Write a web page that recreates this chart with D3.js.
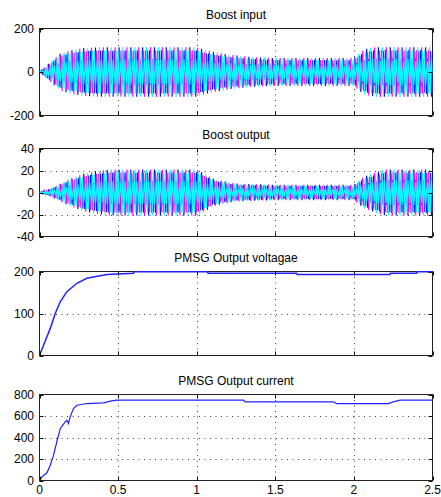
<!DOCTYPE html>
<html>
<head>
<meta charset="utf-8">
<script src="https://cdn.jsdelivr.net/npm/d3@7/dist/d3.min.js"></script>
<style>
  html, body { margin: 0; padding: 0; background: #fff; }
  svg { display: block; }
  text { font-family: "Liberation Sans", Arial, sans-serif; fill: #000; }
</style>
</head>
<body>
<svg id="chart" width="441" height="497"></svg>
<script>
// ---------------- data ----------------
const titles = ["Boost input", "Boost output", "PMSG Output voltagae", "PMSG Output current"];
const timeTicks = [0, 0.5, 1, 1.5, 2, 2.5];
const timeTickLabels = ["0", "0.5", "1", "1.5", "2", "2.5"];

const boostInTicks = [-200, 0, 200];
const boostOutTicks = [-40, -20, 0, 20, 40];
const voltTicks = [0, 100, 200];
const currTicks = [0, 200, 400, 600, 800];

// envelope (peak amplitude) of the boost input waveform
const boostInEnvT = [0, 0.068, 0.132, 0.195, 0.28, 0.386, 1.0, 1.064, 1.149, 1.212, 1.36, 1.51, 2.0, 2.04, 2.08, 2.145, 2.5];
const boostInEnvA = [0, 45, 84, 99, 110, 114, 114, 99, 87, 79, 68, 64, 64, 91, 107, 114, 114];

// envelope of the boost output waveform
const boostOutEnvT = [0, 0.068, 0.174, 0.28, 0.365, 0.45, 1.0, 1.02, 1.106, 1.149, 1.233, 1.276, 1.488, 2.0, 2.06, 2.145, 2.2, 2.5];
const boostOutEnvA = [0, 3.5, 11, 17, 19.5, 21, 21, 19.5, 12.6, 11, 8.5, 8, 7, 7, 14, 18.6, 21, 21];

// PMSG output voltage
const voltT = [0, 0.025, 0.068, 0.1, 0.132, 0.174, 0.238, 0.301, 0.386, 0.428, 0.598, 0.6, 1.07, 1.072, 1.636, 1.638, 2.23, 2.232, 2.4, 2.402, 2.5];
const voltV = [0, 24, 64, 100, 128, 152, 172, 184, 190, 193, 196, 199.5, 199.5, 196, 196, 193, 193, 196, 196, 199.5, 199.5];

// PMSG output current
const currT = [0, 0.025, 0.047, 0.068, 0.089, 0.11, 0.132, 0.163, 0.174, 0.184, 0.195, 0.216, 0.238, 0.301, 0.407, 0.45, 0.49, 1.297, 1.308, 1.869, 1.89, 2.219, 2.25, 2.293, 2.5];
const currV = [0, 47, 72, 140, 233, 358, 482, 545, 560, 530, 592, 670, 700, 716, 722, 738, 748, 748, 732, 732, 716, 716, 732, 748, 748];

// three-phase carrier drawn inside the envelopes
const phaseColors = ["#0000ff", "#ff00ff", "#00ffff"];
const phaseOffsets = [0, 2 * Math.PI / 3, 4 * Math.PI / 3];
const sampleStep = 0.00625;    // simulation output step (s)
const carrierHz = 93.33;       // aliasing carrier frequency

// ---------------- layout ----------------
const svg = d3.select("#chart");
const xL = 39.5, xR = 432.5;
const panels = [
  { top: 28.5, bottom: 115.5, domain: [-200, 200], ticks: boostInTicks },
  { top: 148.5, bottom: 236.5, domain: [-40, 40], ticks: boostOutTicks },
  { top: 271.5, bottom: 355.5, domain: [0, 200], ticks: voltTicks },
  { top: 394.5, bottom: 480.5, domain: [0, 800], ticks: currTicks }
];

const x = d3.scaleLinear().domain([0, 2.5]).range([xL, xR]);

function samples() {
  const n = Math.round(2.5 / sampleStep);
  return d3.range(n + 1).map(i => i * sampleStep);
}

panels.forEach((p, i) => {
  const y = d3.scaleLinear().domain(p.domain).range([p.bottom, p.top]);
  const g = svg.append("g");
  const clipId = "clip" + i;
  svg.append("clipPath").attr("id", clipId)
    .append("rect").attr("x", xL).attr("y", p.top - 2).attr("width", xR - xL).attr("height", p.bottom - p.top + 4);

  // grid
  const grid = g.append("g").attr("stroke", "#000").attr("stroke-width", 1)
    .attr("stroke-dasharray", "1,4.5").attr("stroke-opacity", 0.75);
  timeTicks.slice(1, -1).forEach(t => {
    const xx = Math.round(x(t)) + 0.5;
    grid.append("line").attr("x1", xx).attr("x2", xx).attr("y1", p.top).attr("y2", p.bottom);
  });
  p.ticks.slice(1, -1).forEach(v => {
    const yy = Math.round(y(v)) + 0.5;
    grid.append("line").attr("x1", xL).attr("x2", xR).attr("y1", yy).attr("y2", yy);
  });

  // box
  g.append("rect").attr("x", xL).attr("y", p.top).attr("width", xR - xL).attr("height", p.bottom - p.top)
    .attr("fill", "none").attr("stroke", "#222").attr("stroke-width", 1);

  // data
  const dg = g.append("g").attr("clip-path", `url(#${clipId})`);
  if (i < 2) {
    const envT = i === 0 ? boostInEnvT : boostOutEnvT;
    const envA = i === 0 ? boostInEnvA : boostOutEnvA;
    const env = d3.scaleLinear().domain(envT).range(envA).clamp(true);
    const ts = samples();
    phaseOffsets.forEach((ph, k) => {
      const pts = ts.map(t => [t, env(t) * Math.sin(2 * Math.PI * carrierHz * t + ph)]);
      dg.append("path")
        .attr("d", d3.line().x(d => x(d[0])).y(d => y(d[1]))(pts))
        .attr("fill", "none").attr("stroke", phaseColors[k]).attr("stroke-width", 1.1);
    });
  } else {
    const T = i === 2 ? voltT : currT;
    const V = i === 2 ? voltV : currV;
    const pts = T.map((t, j) => [t, V[j]]);
    dg.append("path")
      .attr("d", d3.line().x(d => x(d[0])).y(d => y(d[1]))(pts))
      .attr("fill", "none").attr("stroke", "#2020ff").attr("stroke-width", i === 2 ? 1.5 : 1.2);
  }

  // ticks (inside, all four sides)
  const tk = g.append("g").attr("stroke", "#111").attr("stroke-width", 1);
  timeTicks.forEach(t => {
    const xx = Math.round(x(t)) + 0.5;
    tk.append("line").attr("x1", xx).attr("x2", xx).attr("y1", p.bottom).attr("y2", p.bottom - 4);
    tk.append("line").attr("x1", xx).attr("x2", xx).attr("y1", p.top).attr("y2", p.top + 4);
  });
  p.ticks.forEach(v => {
    const yy = Math.round(y(v)) + 0.5;
    tk.append("line").attr("x1", xL).attr("x2", xL + 4).attr("y1", yy).attr("y2", yy);
    tk.append("line").attr("x1", xR).attr("x2", xR - 4).attr("y1", yy).attr("y2", yy);
  });

  // y tick labels
  p.ticks.forEach(v => {
    g.append("text").attr("x", 34).attr("y", y(v)).attr("dy", "0.35em")
      .attr("text-anchor", "end").attr("font-size", 12).text(v);
  });

  // title
  g.append("text").attr("x", (xL + xR) / 2).attr("y", p.top - 9.5)
    .attr("text-anchor", "middle").attr("font-size", 12).text(titles[i]);

  // x tick labels on last panel
  if (i === panels.length - 1) {
    timeTicks.forEach((t, j) => {
      g.append("text").attr("x", x(t)).attr("y", 494)
        .attr("text-anchor", "middle").attr("font-size", 12).text(timeTickLabels[j]);
    });
  }
});
</script>
</body>
</html>
